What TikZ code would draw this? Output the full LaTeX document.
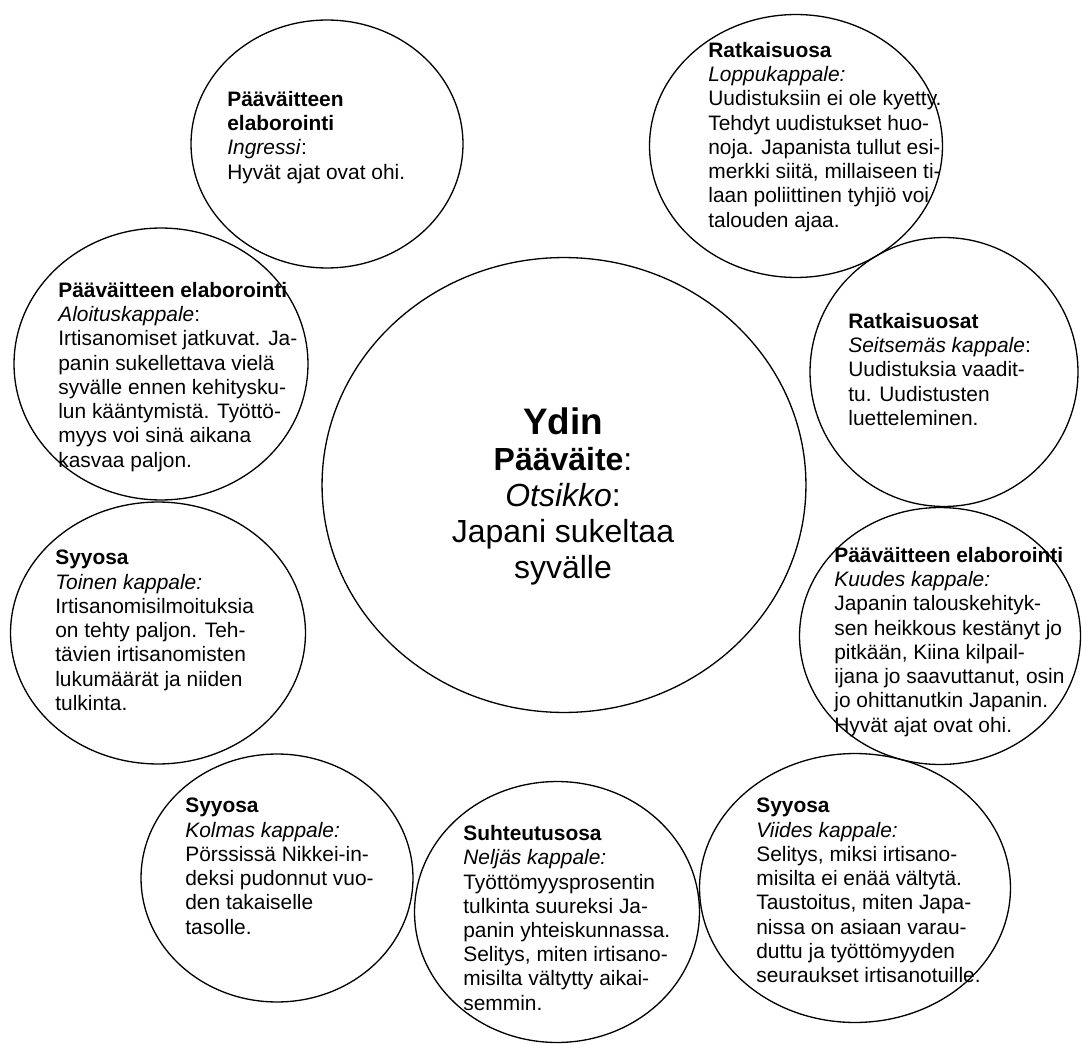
\documentclass[tikz,border=0pt]{standalone}
\usepackage{fontspec}
\setmainfont{Liberation Sans}
\usetikzlibrary{shapes.geometric, positioning}

\begin{document}
\begin{tikzpicture}[
    x=0.02cm, y=-0.02cm,
    bubble/.style={ellipse, draw=black, line width=0.75pt, inner sep=0pt},
    txt/.style={anchor=north west, align=left, inner sep=0pt, font=\fontsize{11.9}{13.8}\selectfont},
    core/.style={anchor=north, align=center, inner sep=0pt, font=\fontsize{18.2}{20.5}\selectfont},
]
    \useasboundingbox (0,0) rectangle (1082,1044);

    % bubbles
    \node[bubble, minimum width=5.44cm, minimum height=4.96cm] (ingressi) at (327,144) {};
    \node[bubble, minimum width=5.88cm, minimum height=5.44cm] (aloitus) at (161,364) {};
    \node[bubble, minimum width=9.68cm, minimum height=9.10cm] (ydin) at (564,485) {};
    \node[bubble, minimum width=5.86cm, minimum height=5.26cm] (loppu) at (796,146) {};
    \node[bubble, minimum width=5.36cm, minimum height=5.38cm] (seitsemas) at (944,372) {};
    \node[bubble, minimum width=5.62cm, minimum height=5.14cm] (kuudes) at (940,636) {};
    \node[bubble, minimum width=6.22cm, minimum height=5.38cm] (viides) at (855,888) {};
    \node[bubble, minimum width=5.70cm, minimum height=5.22cm] (neljas) at (557,912) {};
    \node[bubble, minimum width=5.44cm, minimum height=4.96cm] (kolmas) at (277,878) {};
    \node[bubble, minimum width=5.90cm, minimum height=5.24cm] (toinen) at (158,633) {};

    % texts
    \node[core] (ydinText) at (563,407) {{\fontsize{21}{24}\selectfont\bfseries Ydin}\\\textbf{Pääväite}:\\\textit{Otsikko}:\\Japani sukeltaa\\syvälle};
    \node[txt] (ingressiText) at (227,91) {\textbf{Pääväitteen}\\\textbf{elaborointi}\\\textit{Ingressi}:\\Hyvät ajat ovat ohi.};
    \node[txt] (aloitusText) at (58,282) {\textbf{Pääväitteen elaborointi}\\\textit{Aloituskappale}:\\Irtisanomiset jatkuvat. Ja-\\panin sukellettava vielä\\syvälle ennen kehitysku-\\lun kääntymistä. Työttö-\\myys voi sinä aikana\\kasvaa paljon.};
    \node[txt] (toinenText) at (55,550) {\textbf{Syyosa}\\\textit{Toinen kappale:}\\Irtisanomisilmoituksia\\on tehty paljon. Teh-\\tävien irtisanomisten\\lukumäärät ja niiden\\tulkinta.};
    \node[txt] (kolmasText) at (185,798) {\textbf{Syyosa}\\\textit{Kolmas kappale:}\\Pörssissä Nikkei-in-\\deksi pudonnut vuo-\\den takaiselle\\tasolle.};
    \node[txt] (neljasText) at (463,825) {\textbf{Suhteutusosa}\\\textit{Neljäs kappale:}\\Työttömyysprosentin\\tulkinta suureksi Ja-\\panin yhteiskunnassa.\\Selitys, miten irtisano-\\misilta vältytty aikai-\\semmin.};
    \node[txt] (viidesText) at (756,798) {\textbf{Syyosa}\\\textit{Viides kappale:}\\Selitys, miksi irtisano-\\misilta ei enää vältytä.\\Taustoitus, miten Japa-\\nissa on asiaan varau-\\duttu ja työttömyyden\\seuraukset irtisanotuille.};
    \node[txt] (kuudesText) at (834,547) {\textbf{Pääväitteen elaborointi}\\\textit{Kuudes kappale:}\\Japanin talouskehityk-\\sen heikkous kestänyt jo\\pitkään, Kiina kilpail-\\ijana jo saavuttanut, osin\\jo ohittanutkin Japanin.\\Hyvät ajat ovat ohi.};
    \node[txt] (seitsemasText) at (848,313) {\textbf{Ratkaisuosat}\\\textit{Seitsemäs kappale}:\\Uudistuksia vaadit-\\tu. Uudistusten\\luetteleminen.};
    \node[txt] (loppuText) at (708,42) {\textbf{Ratkaisuosa}\\\textit{Loppukappale:}\\Uudistuksiin ei ole kyetty.\\Tehdyt uudistukset huo-\\noja. Japanista tullut esi-\\merkki siitä, millaiseen ti-\\laan poliittinen tyhjiö voi\\talouden ajaa.};
\end{tikzpicture}
\end{document}
